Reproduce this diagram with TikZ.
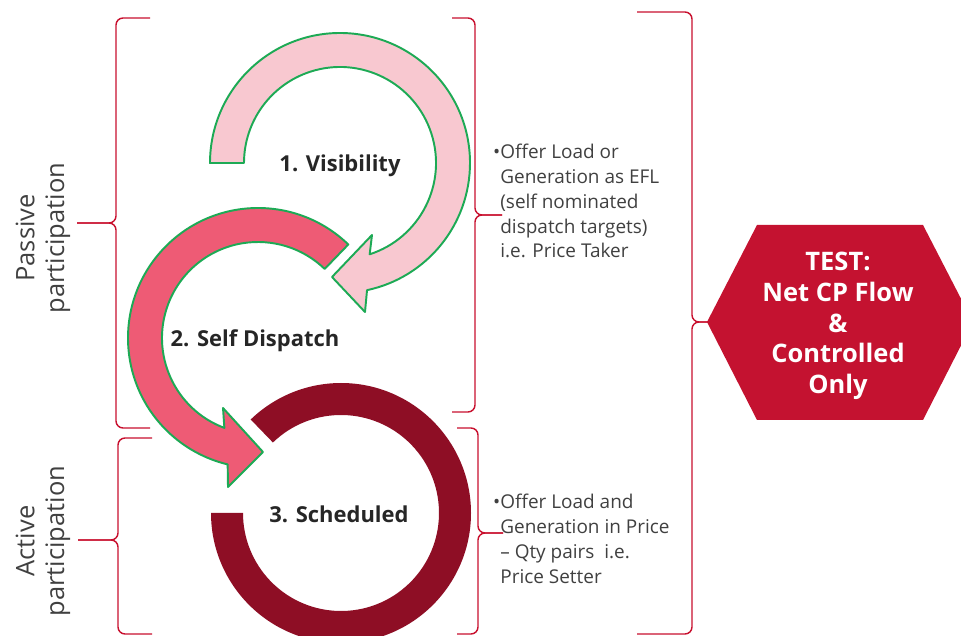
\documentclass[tikz,border=0pt]{standalone}
\usepackage{fontspec}
\setmainfont{Open Sans}
\usepackage{tikz}
\usetikzlibrary{calc}

\definecolor{visPink}{HTML}{F8C8D0}
\definecolor{arrowGreen}{HTML}{1DAA55}
\definecolor{selfRed}{HTML}{EE5B75}
\definecolor{schedRed}{HTML}{8E0E25}
\definecolor{braceRed}{HTML}{C8102E}
\definecolor{testRed}{HTML}{C41230}
\definecolor{labelGray}{HTML}{262626}
\definecolor{noteGray}{HTML}{404040}

\begin{document}
\begin{tikzpicture}[
        % define styles
        x=0.02cm, y=0.02cm,
        outlined/.style={
            draw=arrowGreen,
            line width=1.1pt,
            line join=round
        },
        stagelabel/.style={
            font=\fontsize{12.5}{15}\selectfont\bfseries,
            text=labelGray,
            inner sep=0pt,
            anchor=base
        },
        sidelabel/.style={
            font=\fontsize{14.5}{17}\selectfont,
            text=noteGray,
            align=center,
            rotate=90
        },
        notetext/.style={
            font=\fontsize{10.8}{14.1}\selectfont,
            text=noteGray,
            align=left,
            inner sep=0pt,
            anchor=north west
        },
        bracket/.style={
            draw=braceRed,
            line width=0.8pt,
            rounded corners=4pt
        }
    ]
    \useasboundingbox (0,0) rectangle (961,636);
    \clip (0,0) rectangle (961,636);

    % centres of the three rings
    \coordinate (c1) at (340,473);
    \coordinate (c2) at (258,298);
    \coordinate (c3) at (341,123);

    % ring 3, no head
    \fill[schedRed] ($(c3)+(180:130)$) arc[start angle=180, end angle=494, radius=130]
        -- ($(c3)+(494:98)$) arc[start angle=494, end angle=180, radius=98] -- cycle;

    % arrow 2, counter clockwise
    \filldraw[outlined, fill=selfRed] ($(c2)+(46:130)$) arc[start angle=46, end angle=256.5, radius=130]
        -- (228,149) -- (263,184) -- (223,228)
        -- ($(c2)+(249.5:96)$) arc[start angle=249.5, end angle=46, radius=96] -- cycle;

    % arrow 1, clockwise
    \filldraw[outlined, fill=visPink] ($(c1)+(180:130)$) arc[start angle=180, end angle=-78, radius=130]
        -- (365,324) -- (332,359) -- (372,401)
        -- ($(c1)+(-72:96)$) arc[start angle=-72, end angle=180, radius=96] -- cycle;

    % stage names
    \node[stagelabel] (vis) at (340,464) {1. Visibility};
    \node[stagelabel] (self) at (255,289) {2. Self Dispatch};
    \node[stagelabel] (sched) at (339,113) {3. Scheduled};

    % braces: end x / spine x / tip x / top y / tip y / bottom y
    \foreach \xe/\xv/\xt/\yt/\ym/\yb in {150/116/77/618/413/208, 152/118/78/198/96/2,
        452/475/502/618/421/224, 457/478/503/208/103/2, 637/692/708/624/314/2} {
        \draw[bracket] (\xe,\yt) -- (\xv,\yt) -- (\xv,\ym) -- (\xt,\ym);
        \draw[bracket] (\xe,\yb) -- (\xv,\yb) -- (\xv,\ym) -- (\xt,\ym);
    }

    \node[sidelabel] (passive) at (43,398) {Passive\\participation};
    \node[sidelabel] (active) at (43,95) {Active\\participation};

    \node[notetext] (taker) at (500,492) {\llap{•}Offer Load or\\Generation as EFL\\(self nominated\\dispatch targets)\\i.e. Price Taker};
    \node[notetext] (setter) at (500,142) {\llap{•}Offer Load and\\Generation in Price\\– Qty pairs\ \ i.e.\\Price Setter};

    % test hexagon
    \fill[testRed] (707,314) -- (757,411) -- (923,411) -- (973,314) -- (923,216) -- (757,216) -- cycle;
    \node[font=\fontsize{14.5}{17.5}\selectfont\bfseries, text=white, align=center] (test) at (838,310)
        {TEST:\\Net CP Flow\\\&\\Controlled\\Only};
\end{tikzpicture}
\end{document}
